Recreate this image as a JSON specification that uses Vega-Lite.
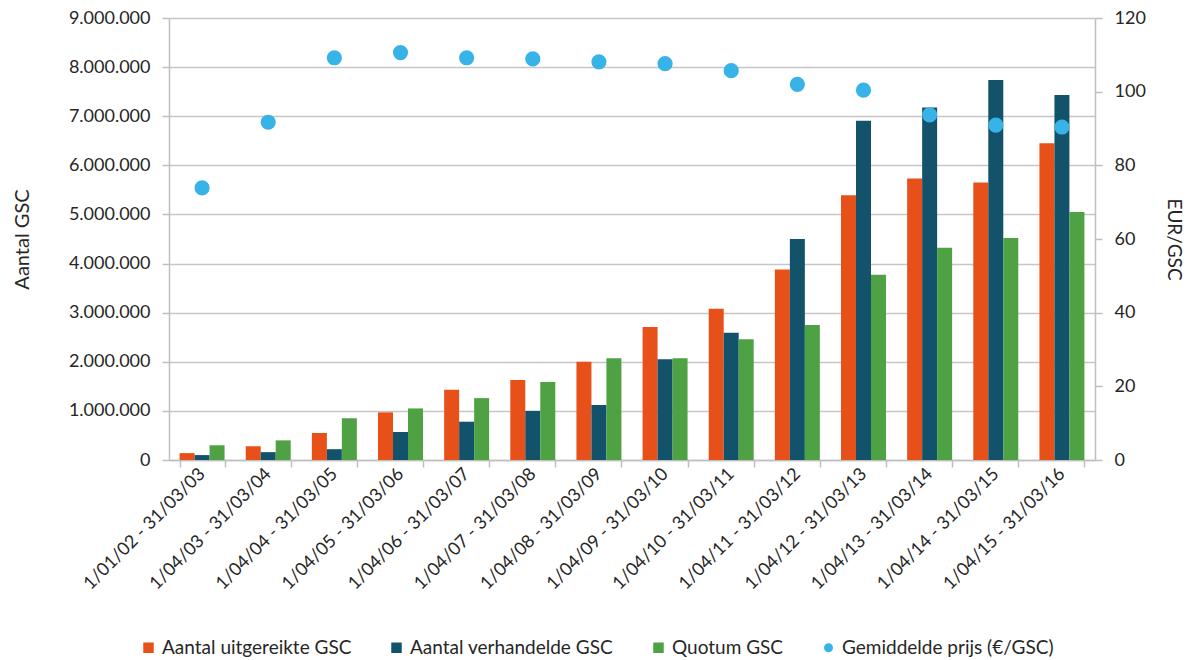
{
  "$schema": "https://vega.github.io/schema/vega-lite/v6.json",
  "width": 926,
  "height": 442,
  "padding": {"left": 12, "top": 9, "right": 4, "bottom": 4},
  "background": "white",
  "datasets": {
    "bars": [
      {"period": "1/01/02 - 31/03/03", "series": "Aantal uitgereikte GSC", "value": 140000},
      {"period": "1/01/02 - 31/03/03", "series": "Aantal verhandelde GSC", "value": 100000},
      {"period": "1/01/02 - 31/03/03", "series": "Quotum GSC", "value": 300000},
      {"period": "1/04/03 - 31/03/04", "series": "Aantal uitgereikte GSC", "value": 280000},
      {"period": "1/04/03 - 31/03/04", "series": "Aantal verhandelde GSC", "value": 160000},
      {"period": "1/04/03 - 31/03/04", "series": "Quotum GSC", "value": 400000},
      {"period": "1/04/04 - 31/03/05", "series": "Aantal uitgereikte GSC", "value": 550000},
      {"period": "1/04/04 - 31/03/05", "series": "Aantal verhandelde GSC", "value": 220000},
      {"period": "1/04/04 - 31/03/05", "series": "Quotum GSC", "value": 850000},
      {"period": "1/04/05 - 31/03/06", "series": "Aantal uitgereikte GSC", "value": 970000},
      {"period": "1/04/05 - 31/03/06", "series": "Aantal verhandelde GSC", "value": 570000},
      {"period": "1/04/05 - 31/03/06", "series": "Quotum GSC", "value": 1050000},
      {"period": "1/04/06 - 31/03/07", "series": "Aantal uitgereikte GSC", "value": 1430000},
      {"period": "1/04/06 - 31/03/07", "series": "Aantal verhandelde GSC", "value": 780000},
      {"period": "1/04/06 - 31/03/07", "series": "Quotum GSC", "value": 1260000},
      {"period": "1/04/07 - 31/03/08", "series": "Aantal uitgereikte GSC", "value": 1630000},
      {"period": "1/04/07 - 31/03/08", "series": "Aantal verhandelde GSC", "value": 1000000},
      {"period": "1/04/07 - 31/03/08", "series": "Quotum GSC", "value": 1590000},
      {"period": "1/04/08 - 31/03/09", "series": "Aantal uitgereikte GSC", "value": 2000000},
      {"period": "1/04/08 - 31/03/09", "series": "Aantal verhandelde GSC", "value": 1120000},
      {"period": "1/04/08 - 31/03/09", "series": "Quotum GSC", "value": 2070000},
      {"period": "1/04/09 - 31/03/10", "series": "Aantal uitgereikte GSC", "value": 2710000},
      {"period": "1/04/09 - 31/03/10", "series": "Aantal verhandelde GSC", "value": 2050000},
      {"period": "1/04/09 - 31/03/10", "series": "Quotum GSC", "value": 2070000},
      {"period": "1/04/10 - 31/03/11", "series": "Aantal uitgereikte GSC", "value": 3080000},
      {"period": "1/04/10 - 31/03/11", "series": "Aantal verhandelde GSC", "value": 2590000},
      {"period": "1/04/10 - 31/03/11", "series": "Quotum GSC", "value": 2460000},
      {"period": "1/04/11 - 31/03/12", "series": "Aantal uitgereikte GSC", "value": 3880000},
      {"period": "1/04/11 - 31/03/12", "series": "Aantal verhandelde GSC", "value": 4500000},
      {"period": "1/04/11 - 31/03/12", "series": "Quotum GSC", "value": 2750000},
      {"period": "1/04/12 - 31/03/13", "series": "Aantal uitgereikte GSC", "value": 5390000},
      {"period": "1/04/12 - 31/03/13", "series": "Aantal verhandelde GSC", "value": 6910000},
      {"period": "1/04/12 - 31/03/13", "series": "Quotum GSC", "value": 3770000},
      {"period": "1/04/13 - 31/03/14", "series": "Aantal uitgereikte GSC", "value": 5730000},
      {"period": "1/04/13 - 31/03/14", "series": "Aantal verhandelde GSC", "value": 7180000},
      {"period": "1/04/13 - 31/03/14", "series": "Quotum GSC", "value": 4320000},
      {"period": "1/04/14 - 31/03/15", "series": "Aantal uitgereikte GSC", "value": 5650000},
      {"period": "1/04/14 - 31/03/15", "series": "Aantal verhandelde GSC", "value": 7740000},
      {"period": "1/04/14 - 31/03/15", "series": "Quotum GSC", "value": 4520000},
      {"period": "1/04/15 - 31/03/16", "series": "Aantal uitgereikte GSC", "value": 6450000},
      {"period": "1/04/15 - 31/03/16", "series": "Aantal verhandelde GSC", "value": 7430000},
      {"period": "1/04/15 - 31/03/16", "series": "Quotum GSC", "value": 5050000}
    ],
    "prices": [
      {"period": "1/01/02 - 31/03/03", "series": "Gemiddelde prijs  (€/GSC)", "price": 73.9},
      {"period": "1/04/03 - 31/03/04", "series": "Gemiddelde prijs  (€/GSC)", "price": 91.7},
      {"period": "1/04/04 - 31/03/05", "series": "Gemiddelde prijs  (€/GSC)", "price": 109.2},
      {"period": "1/04/05 - 31/03/06", "series": "Gemiddelde prijs  (€/GSC)", "price": 110.6},
      {"period": "1/04/06 - 31/03/07", "series": "Gemiddelde prijs  (€/GSC)", "price": 109.2},
      {"period": "1/04/07 - 31/03/08", "series": "Gemiddelde prijs  (€/GSC)", "price": 108.9},
      {"period": "1/04/08 - 31/03/09", "series": "Gemiddelde prijs  (€/GSC)", "price": 108.1},
      {"period": "1/04/09 - 31/03/10", "series": "Gemiddelde prijs  (€/GSC)", "price": 107.6},
      {"period": "1/04/10 - 31/03/11", "series": "Gemiddelde prijs  (€/GSC)", "price": 105.7},
      {"period": "1/04/11 - 31/03/12", "series": "Gemiddelde prijs  (€/GSC)", "price": 102.0},
      {"period": "1/04/12 - 31/03/13", "series": "Gemiddelde prijs  (€/GSC)", "price": 100.4},
      {"period": "1/04/13 - 31/03/14", "series": "Gemiddelde prijs  (€/GSC)", "price": 93.7},
      {"period": "1/04/14 - 31/03/15", "series": "Gemiddelde prijs  (€/GSC)", "price": 90.9},
      {"period": "1/04/15 - 31/03/16", "series": "Gemiddelde prijs  (€/GSC)", "price": 90.4}
    ]
  },
  "encoding": {
    "x": {
      "field": "period",
      "type": "nominal",
      "sort": null,
      "scale": {"paddingInner": 0.32, "paddingOuter": 0.16},
      "axis": {
        "title": null,
        "labelAngle": -45,
        "labelAlign": "right",
        "labelBaseline": "middle",
        "labelPadding": 4,
        "tickBand": "extent",
        "ticks": true,
        "domain": true
      }
    },
    "color": {
      "field": "series",
      "type": "nominal",
      "scale": {
        "domain": ["Aantal uitgereikte GSC", "Aantal verhandelde GSC", "Quotum GSC", "Gemiddelde prijs  (€/GSC)"],
        "range": ["#E8501A", "#12526B", "#4EA244", "#38B3E8"]
      },
      "legend": {
        "title": null,
        "orient": "none",
        "legendX": -30,
        "legendY": 620,
        "direction": "horizontal",
        "columns": 4,
        "symbolType": "square",
        "symbolSize": 110,
        "symbolStrokeWidth": 0,
        "columnPadding": 35,
        "labelLimit": 0,
        "labelOffset": 4,
        "encode": {
          "symbols": {
            "update": {
              "shape": {"signal": "datum.value === 'Gemiddelde prijs  (€/GSC)' ? 'circle' : 'square'"},
              "size": {"signal": "datum.value === 'Gemiddelde prijs  (€/GSC)' ? 80 : 110"}
            }
          }
        }
      }
    }
  },
  "layer": [
    {
      "data": {"name": "bars"},
      "mark": {"type": "bar"},
      "encoding": {
        "xOffset": {
          "field": "series",
          "type": "nominal",
          "sort": ["Aantal uitgereikte GSC", "Aantal verhandelde GSC", "Quotum GSC"],
          "scale": {"paddingInner": 0, "paddingOuter": 0}
        },
        "y": {
          "field": "value",
          "type": "quantitative",
          "scale": {"domain": [0, 9000000], "nice": false},
          "axis": {
            "title": "Aantal GSC",
            "orient": "left",
            "values": [0, 1000000, 2000000, 3000000, 4000000, 5000000, 6000000, 7000000, 8000000, 9000000],
            "format": ",d",
            "grid": true,
            "labelPadding": 12,
            "titlePadding": 36,
            "titleFontSize": 20
          }
        }
      }
    },
    {
      "data": {"name": "prices"},
      "mark": {"type": "point", "filled": true, "size": 230, "opacity": 1, "shape": "circle"},
      "encoding": {
        "y": {
          "field": "price",
          "type": "quantitative",
          "scale": {"domain": [0, 120], "nice": false},
          "axis": {
            "title": "EUR/GSC",
            "orient": "right",
            "values": [0, 20, 40, 60, 80, 100, 120],
            "grid": false,
            "labelPadding": 12,
            "titlePadding": 18
          }
        }
      }
    }
  ],
  "resolve": {"scale": {"y": "independent"}},
  "config": {
    "locale": {
      "number": {"decimal": ",", "thousands": ".", "grouping": [3], "currency": ["€", ""]}
    },
    "view": {"stroke": null},
    "axis": {
      "domainColor": "#BFBFBF",
      "domainWidth": 1.5,
      "tickColor": "#BFBFBF",
      "tickWidth": 1.5,
      "tickSize": 7,
      "gridColor": "#C6C6C6",
      "gridWidth": 1.5,
      "labelFont": "Lato",
      "labelFontSize": 18,
      "labelColor": "#262626",
      "titleFont": "Lato",
      "titleFontSize": 19,
      "titleFontWeight": "normal",
      "titleColor": "#262626"
    },
    "legend": {
      "labelFont": "Lato",
      "labelFontSize": 19,
      "labelColor": "#262626"
    }
  }
}
